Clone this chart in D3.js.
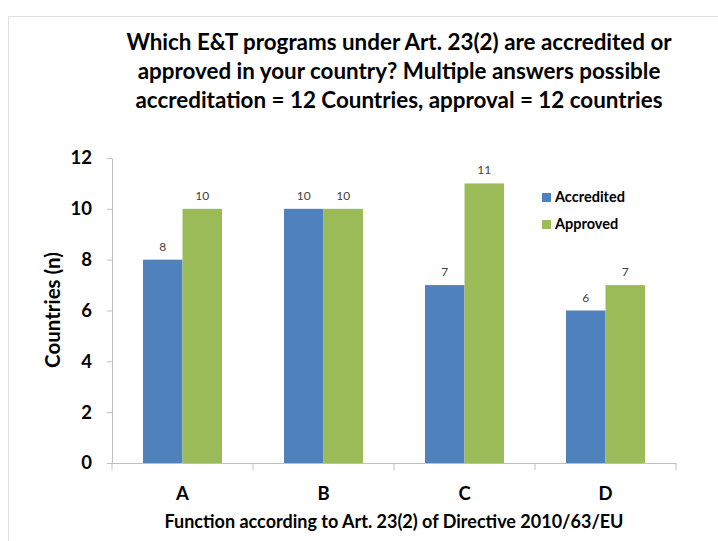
<!DOCTYPE html>
<html><head><meta charset="utf-8">
<script src="https://cdn.jsdelivr.net/npm/d3@7"></script>
<style>body{margin:0;background:#fff}svg{display:block}text{font-family:Lato,"Open Sans",sans-serif}</style>
</head><body>
<svg id="c" width="718" height="541"></svg>
<script>
const categories = ["A","B","C","D"];
const seriesNames = ["Accredited","Approved"];
const accredited = [8,10,7,6];
const approved = [10,10,11,7];
const yTicks = [0,2,4,6,8,10,12];
const titleLines = ["Which E&T programs under Art. 23(2) are accredited or","approved in your country? Multiple answers possible","accreditation = 12 Countries, approval = 12 countries"];
const colors = ["#4F81BD","#9BBB59"];

const svg = d3.select("#c");
svg.append("rect").attr("x",8.5).attr("y",16.5).attr("width",720).attr("height",540)
  .attr("fill","none").attr("stroke","#e0e0e0");

const x = d3.scaleBand().domain(categories).range([112,676]).paddingInner(0).paddingOuter(0);
const y = d3.scaleLinear().domain([0,12]).range([463,158]);
const xs = d3.scaleBand().domain(seriesNames).range([0,79]);
const off = (x.bandwidth()-79)/2;

// title
svg.append("g").selectAll("text").data(titleLines).join("text")
  .attr("x",399).attr("y",(d,i)=>50+i*29).attr("text-anchor","middle")
  .attr("font-weight","bold").attr("font-size",22.4).attr("fill","#000").text(d=>d);

// bars
const data = categories.map((c,i)=>({c, vals:[accredited[i],approved[i]]}));
const g = svg.append("g");
data.forEach(d=>{
  d.vals.forEach((v,j)=>{
    const bx = x(d.c)+off+xs(seriesNames[j]);
    g.append("rect").attr("x",bx).attr("y",y(v)).attr("width",xs.bandwidth()).attr("height",y(0)-y(v)).attr("fill",colors[j]);
    g.append("text").attr("x",bx+xs.bandwidth()/2).attr("y",y(v)-9).attr("text-anchor","middle")
      .attr("font-size",12).attr("fill","#404040").text(v);
  });
});

// y axis
const ya = svg.append("g").attr("transform","translate(112,0)")
  .call(d3.axisLeft(y).tickValues(yTicks).tickSize(5).tickSizeOuter(0).tickPadding(15));
ya.select(".domain").attr("stroke","#bfbfbf");
ya.selectAll(".tick line").attr("stroke","#bfbfbf");
ya.selectAll(".tick text").attr("font-size",18.5).attr("font-weight","bold").attr("fill","#000").attr("font-family","Lato,sans-serif");

// x axis
const xa = svg.append("g").attr("transform","translate(0,463)")
  .call(d3.axisBottom(x).tickSize(0).tickPadding(24));
xa.select(".domain").attr("stroke","#bfbfbf");
xa.selectAll(".tick text").attr("font-size",18.5).attr("font-weight","bold").attr("fill","#000").attr("font-family","Lato,sans-serif");
const bounds = [112].concat(categories.map(c=>x(c)+x.bandwidth()));
xa.selectAll(".sep").data(bounds).join("line").attr("class","sep")
  .attr("x1",d=>d).attr("x2",d=>d).attr("y1",0).attr("y2",7).attr("stroke","#bfbfbf");

// axis titles
svg.append("text").attr("transform","translate(60,310) rotate(-90)").attr("text-anchor","middle")
  .attr("font-size",20.5).attr("font-weight","bold").text("Countries (n)");
svg.append("text").attr("x",394).attr("y",528).attr("text-anchor","middle")
  .attr("font-size",18).attr("font-weight","bold").text("Function according to Art. 23(2) of Directive 2010/63/EU");

// legend
const lg = svg.append("g");
seriesNames.forEach((s,i)=>{
  lg.append("rect").attr("x",542).attr("y",193+i*27).attr("width",9).attr("height",9).attr("fill",colors[i]);
  lg.append("text").attr("x",555).attr("y",202+i*27).attr("font-size",14.5).attr("font-weight","bold").text(s);
});
</script>
</body></html>
